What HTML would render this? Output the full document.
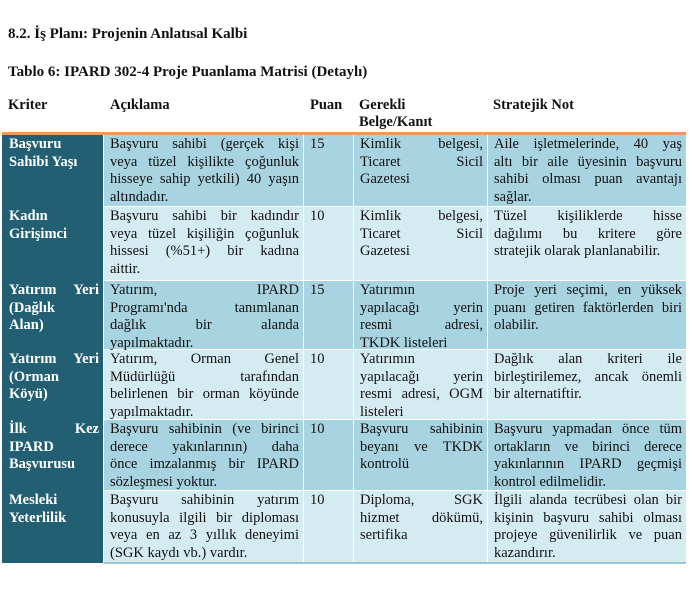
<!DOCTYPE html>
<html><head><meta charset="utf-8"><style>
body{margin:0;width:700px;height:605px;background:#fff;font-family:"Liberation Serif",serif;font-size:14px;color:#111;position:relative;overflow:hidden}
.t{position:absolute;font-weight:bold;white-space:nowrap;font-size:15px}
.h{position:absolute;top:97px;font-weight:bold;line-height:17px;font-size:14.5px}
.c{position:absolute;box-sizing:border-box;padding:1px 4px 0 6px;line-height:17.5px;font-size:14.5px}
.c div{white-space:nowrap;text-align:justify;text-align-last:justify;height:17.5px}
.c div.e{text-align-last:left}
.k{background:#225f72;color:#fff;font-weight:bold;padding-left:7px}
.a{background:#a8d3e1}
.b{background:#d5ebf2}
</style></head><body>
<div class="t" style="left:8px;top:26px">8.2. İş Planı: Projenin Anlatısal Kalbi</div>
<div class="t" style="left:8px;top:64px">Tablo 6: IPARD 302-4 Proje Puanlama Matrisi (Detaylı)</div>
<div class="h" style="left:8px">Kriter</div>
<div class="h" style="left:110px">Açıklama</div>
<div class="h" style="left:310px">Puan</div>
<div class="h" style="left:359px">Gerekli<br>Belge/Kanıt</div>
<div class="h" style="left:493px">Stratejik Not</div>
<div style="position:absolute;left:2px;top:132px;width:684px;height:3px;background:#ef9a5a"></div>

<div class="c k" style="left:2px;top:135px;width:101px;height:428px"></div>

<div class="c k" style="left:2px;top:135px;width:101px;background:none"><div class="e">Başvuru</div><div class="e">Sahibi Yaşı</div></div>
<div class="c a" style="left:104px;top:135px;width:199px;height:71px"><div>Başvuru sahibi (gerçek kişi</div><div>veya tüzel kişilikte çoğunluk</div><div>hisseye sahip yetkili) 40 yaşın</div><div class="e">altındadır.</div></div>
<div class="c a" style="left:304px;top:135px;width:49px;height:71px"><div class="e">15</div></div>
<div class="c a" style="left:354px;top:135px;width:133px;height:71px"><div>Kimlik belgesi,</div><div>Ticaret Sicil</div><div class="e">Gazetesi</div></div>
<div class="c a" style="left:488px;top:135px;width:198px;height:71px"><div>Aile işletmelerinde, 40 yaş</div><div>altı bir aile üyesinin başvuru</div><div>sahibi olması puan avantajı</div><div class="e">sağlar.</div></div>

<div class="c k" style="left:2px;top:207px;width:101px;background:none"><div class="e">Kadın</div><div class="e">Girişimci</div></div>
<div class="c b" style="left:104px;top:207px;width:199px;height:73px"><div>Başvuru sahibi bir kadındır</div><div>veya tüzel kişiliğin çoğunluk</div><div>hissesi (%51+) bir kadına</div><div class="e">aittir.</div></div>
<div class="c b" style="left:304px;top:207px;width:49px;height:73px"><div class="e">10</div></div>
<div class="c b" style="left:354px;top:207px;width:133px;height:73px"><div>Kimlik belgesi,</div><div>Ticaret Sicil</div><div class="e">Gazetesi</div></div>
<div class="c b" style="left:488px;top:207px;width:198px;height:73px"><div>Tüzel kişiliklerde hisse</div><div>dağılımı bu kritere göre</div><div class="e">stratejik olarak planlanabilir.</div></div>

<div class="c k" style="left:2px;top:281px;width:101px;background:none"><div>Yatırım Yeri</div><div class="e">(Dağlık</div><div class="e">Alan)</div></div>
<div class="c a" style="left:104px;top:281px;width:199px;height:68px"><div>Yatırım, IPARD</div><div>Programı'nda tanımlanan</div><div>dağlık bir alanda</div><div class="e">yapılmaktadır.</div></div>
<div class="c a" style="left:304px;top:281px;width:49px;height:68px"><div class="e">15</div></div>
<div class="c a" style="left:354px;top:281px;width:133px;height:68px"><div class="e">Yatırımın</div><div>yapılacağı yerin</div><div>resmi adresi,</div><div class="e">TKDK listeleri</div></div>
<div class="c a" style="left:488px;top:281px;width:198px;height:68px"><div>Proje yeri seçimi, en yüksek</div><div>puanı getiren faktörlerden biri</div><div class="e">olabilir.</div></div>

<div class="c k" style="left:2px;top:350px;width:101px;background:none"><div>Yatırım Yeri</div><div class="e">(Orman</div><div class="e">Köyü)</div></div>
<div class="c b" style="left:104px;top:350px;width:199px;height:69px"><div>Yatırım, Orman Genel</div><div>Müdürlüğü tarafından</div><div>belirlenen bir orman köyünde</div><div class="e">yapılmaktadır.</div></div>
<div class="c b" style="left:304px;top:350px;width:49px;height:69px"><div class="e">10</div></div>
<div class="c b" style="left:354px;top:350px;width:133px;height:69px"><div class="e">Yatırımın</div><div>yapılacağı yerin</div><div>resmi adresi, OGM</div><div class="e">listeleri</div></div>
<div class="c b" style="left:488px;top:350px;width:198px;height:69px"><div>Dağlık alan kriteri ile</div><div>birleştirilemez, ancak önemli</div><div class="e">bir alternatiftir.</div></div>

<div class="c k" style="left:2px;top:420px;width:101px;background:none"><div>İlk Kez</div><div class="e">IPARD</div><div class="e">Başvurusu</div></div>
<div class="c a" style="left:104px;top:420px;width:199px;height:70px"><div>Başvuru sahibinin (ve birinci</div><div>derece yakınlarının) daha</div><div>önce imzalanmış bir IPARD</div><div class="e">sözleşmesi yoktur.</div></div>
<div class="c a" style="left:304px;top:420px;width:49px;height:70px"><div class="e">10</div></div>
<div class="c a" style="left:354px;top:420px;width:133px;height:70px"><div>Başvuru sahibinin</div><div>beyanı ve TKDK</div><div class="e">kontrolü</div></div>
<div class="c a" style="left:488px;top:420px;width:198px;height:70px"><div>Başvuru yapmadan önce tüm</div><div>ortakların ve birinci derece</div><div>yakınlarının IPARD geçmişi</div><div class="e">kontrol edilmelidir.</div></div>

<div class="c k" style="left:2px;top:491px;width:101px;background:none"><div class="e">Mesleki</div><div class="e">Yeterlilik</div></div>
<div class="c b" style="left:104px;top:491px;width:199px;height:71px"><div>Başvuru sahibinin yatırım</div><div>konusuyla ilgili bir diploması</div><div>veya en az 3 yıllık deneyimi</div><div class="e">(SGK kaydı vb.) vardır.</div></div>
<div class="c b" style="left:304px;top:491px;width:49px;height:71px"><div class="e">10</div></div>
<div class="c b" style="left:354px;top:491px;width:133px;height:71px"><div>Diploma, SGK</div><div>hizmet dökümü,</div><div class="e">sertifika</div></div>
<div class="c b" style="left:488px;top:491px;width:198px;height:71px"><div>İlgili alanda tecrübesi olan bir</div><div>kişinin başvuru sahibi olması</div><div>projeye güvenilirlik ve puan</div><div class="e">kazandırır.</div></div>
<div style="position:absolute;left:104px;top:562px;width:582px;height:2px;background:#9cc6d4"></div>
</body></html>
